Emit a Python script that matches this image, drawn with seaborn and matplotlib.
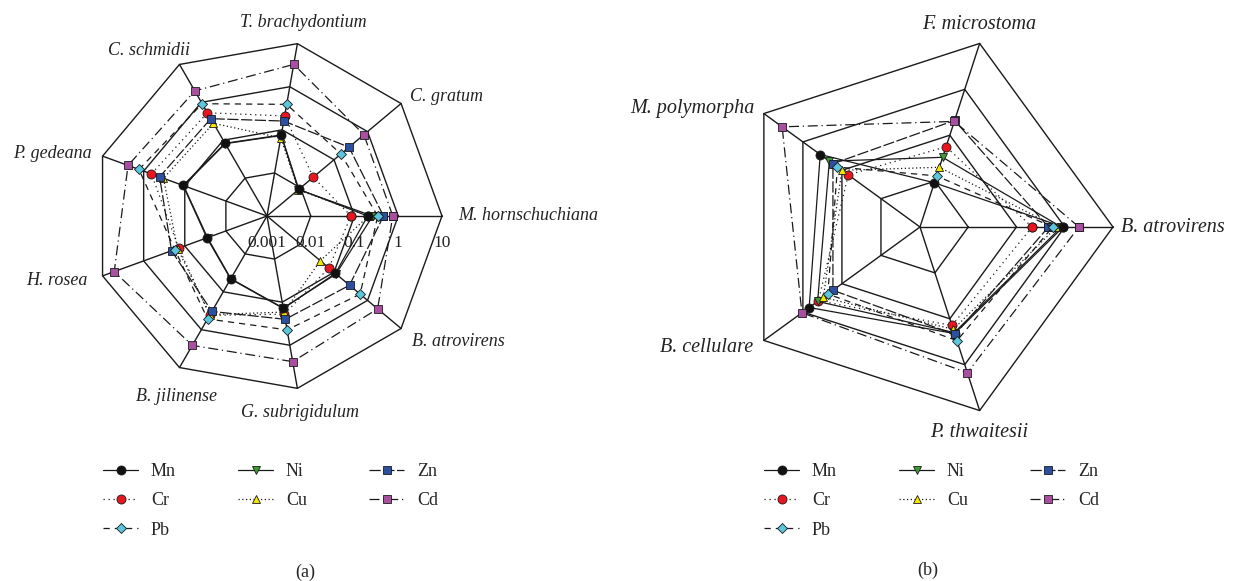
import numpy as np
import matplotlib
matplotlib.use("Agg")
import matplotlib.pyplot as plt
from matplotlib.ticker import NullLocator
import seaborn as sns

sns.set_theme(style="white")
plt.rcParams["font.family"] = ["Liberation Serif", "DejaVu Serif"]

# ---- panel (a): nine moss species, metal content on a log scale ----
species_a = ["M. hornschuchiana", "C. gratum", "T. brachydontium", "C. schmidii",
             "P. gedeana", "H. rosea", "B. jilinense", "G. subrigidulum", "B. atrovirens"]
mn_a = [0.20, 0.0089, 0.076, 0.083, 0.11, 0.029, 0.046, 0.14, 0.11]
cr_a = [0.083, 0.024, 0.21, 0.53, 0.65, 0.14, 0.42, 0.19, 0.07]
ni_a = [0.26, 0.0087, 0.074, 0.081, 0.107, 0.028, 0.045, 0.137, 0.115]
cu_a = [0.21, 0.0086, 0.065, 0.28, 0.33, 0.15, 0.40, 0.17, 0.039]
zn_a = [0.46, 0.28, 0.16, 0.37, 0.41, 0.21, 0.33, 0.25, 0.29]
cd_a = [0.75, 0.78, 3.3, 2.0, 2.4, 5.2, 2.6, 2.4, 2.0]
pb_a = [0.34, 0.16, 0.39, 0.92, 1.3, 0.175, 0.52, 0.44, 0.60]

# ---- panel (b): five moss species ----
species_b = ["B. atrovirens", "F. microstoma", "M. polymorpha", "B. cellulare", "P. thwaitesii"]
mn_b = [0.93, 0.0092, 0.36, 0.69, 0.21]
cr_b = [0.21, 0.056, 0.069, 0.40, 0.14]
ni_b = [0.85, 0.033, 0.21, 0.42, 0.20]
cu_b = [0.68, 0.020, 0.10, 0.30, 0.17]
zn_b = [0.46, 0.21, 0.17, 0.17, 0.22]
cd_b = [1.97, 0.20, 3.4, 1.06, 1.5]
pb_b = [0.56, 0.013, 0.13, 0.23, 0.30]

radial_ticks = [0.001, 0.01, 0.1, 1, 10]
radial_labels = ["0.001", "0.01", "0.1", "1", "10"]
metals = ["Mn", "Cr", "Ni", "Cu", "Zn", "Cd", "Pb"]
# stacking order of the series (later ones drawn on top)
draw_order = ["Cr", "Ni", "Cu", "Mn", "Zn", "Cd", "Pb"]

# marker / line style of each metal series
STYLE = {
    "Mn": dict(marker="o", mfc="#111111", ms=6.5, ls="-"),
    "Cr": dict(marker="o", mfc="#e8161f", ms=6.5, ls=(0, (1, 3))),
    "Ni": dict(marker="v", mfc="#3d9b35", ms=6.0, ls="-"),
    "Cu": dict(marker="^", mfc="#f3e600", ms=6.0, ls=(0, (1, 2))),
    "Zn": dict(marker="s", mfc="#2d4f9f", ms=5.5, ls=(0, (9, 2))),
    "Cd": dict(marker="s", mfc="#a8509f", ms=5.5, ls=(0, (8, 3, 1, 3))),
    "Pb": dict(marker="D", mfc="#5cc6dc", ms=5.0, ls=(0, (5, 4))),
}

PX = 72.0 / 100.0  # points per pixel at dpi 100


def draw_radar(ax, species, series, label_layout, label_size, show_ticks):
    n = len(species)
    theta = np.deg2rad(np.arange(n) * 360.0 / n)
    theta_c = np.append(theta, theta[0])

    ax.set_rscale("log")
    ax.set_rlim(radial_ticks[0], radial_ticks[-1])
    ax.grid(False)
    ax.set_xticks([])
    ax.set_yticks([])
    ax.yaxis.set_minor_locator(NullLocator())
    ax.spines["polar"].set_visible(False)
    ax.set_facecolor("white")

    # polygonal web: rings at each decade and spokes to the outer ring
    for r in radial_ticks[1:]:
        ax.plot(theta_c, [r] * (n + 1), color="k", lw=1.0, zorder=1, clip_on=False)
    for a in theta:
        ax.plot([a, a], [radial_ticks[0], radial_ticks[-1]], color="k", lw=1.0,
                zorder=1, clip_on=False)

    handles = {}
    for m in metals:
        st = STYLE[m]
        vals = list(series[m]) + [series[m][0]]
        sns.lineplot(x=theta_c, y=vals, ax=ax, sort=False, estimator=None,
                     color="k", lw=0.9, linestyle=st["ls"], marker=st["marker"],
                     markersize=st["ms"], markerfacecolor=st["mfc"],
                     markeredgecolor="k", markeredgewidth=0.6, label=m,
                     clip_on=False, zorder=3 + draw_order.index(m))
        handles[m] = ax.get_lines()[-1]

    for a, name, (dx, dy, ha) in zip(theta, species, label_layout):
        ax.annotate(name, xy=(a, radial_ticks[-1]), xytext=(dx * PX, -dy * PX),
                    textcoords="offset points", ha=ha, va="center",
                    fontsize=label_size, style="italic", color="#222222",
                    annotation_clip=False)

    if show_ticks:
        for r, lab in zip(radial_ticks, radial_labels):
            ax.annotate(lab, xy=(0, r), xytext=(0, -27 * PX),
                        textcoords="offset points", ha="center", va="center",
                        fontsize=12.5, color="#222222", annotation_clip=False)

    leg = ax.get_legend()
    if leg is not None:
        leg.remove()
    return handles


fig = plt.figure(figsize=(12.34, 5.81), dpi=100)
W, H = 1234.0, 581.0

ax_a = fig.add_axes([92 / W, 1 - 391 / H, 350 / W, 350 / H], projection="polar")
ax_b = fig.add_axes([727 / W, 1 - 420 / H, 386 / W, 386 / H], projection="polar")

series_a = dict(Mn=mn_a, Cr=cr_a, Ni=ni_a, Cu=cu_a, Zn=zn_a, Cd=cd_a, Pb=pb_a)
series_b = dict(Mn=mn_b, Cr=cr_b, Ni=ni_b, Cu=cu_b, Zn=zn_b, Cd=cd_b, Pb=pb_b)

layout_a = [(16, 0, "left"), (9, -7, "left"), (6, -21, "center"), (10, -14, "right"),
            (-11, -3, "right"), (-15, 5, "right"), (-3, 29, "center"),
            (3, 24, "center"), (11, 13, "left")]
layout_b = [(8, 0, "left"), (0, -19, "center"), (-9, -5, "right"),
            (-11, 7, "right"), (0, 22, "center")]

h_a = draw_radar(ax_a, species_a, series_a, layout_a, 13, True)
h_b = draw_radar(ax_b, species_b, series_b, layout_b, 14.5, False)

legend_order = ["Mn", "Cr", "Pb", "Ni", "Cu", "Zn", "Cd"]
for handles, x0 in ((h_a, 103), (h_b, 764)):
    fig.legend([handles[m] for m in legend_order], legend_order,
               loc="upper left", bbox_to_anchor=(x0 / W, 1 - 463 / H),
               bbox_transform=fig.transFigure, ncol=3, frameon=False,
               fontsize=13, handlelength=1.95, handletextpad=0.7,
               columnspacing=3.45, labelspacing=0.68, borderpad=0,
               borderaxespad=0)

fig.text(305 / W, 1 - 572 / H, "(a)", ha="center", va="center", fontsize=13)
fig.text(928 / W, 1 - 570 / H, "(b)", ha="center", va="center", fontsize=13)

fig.savefig("out.png", dpi=100, facecolor="white")
